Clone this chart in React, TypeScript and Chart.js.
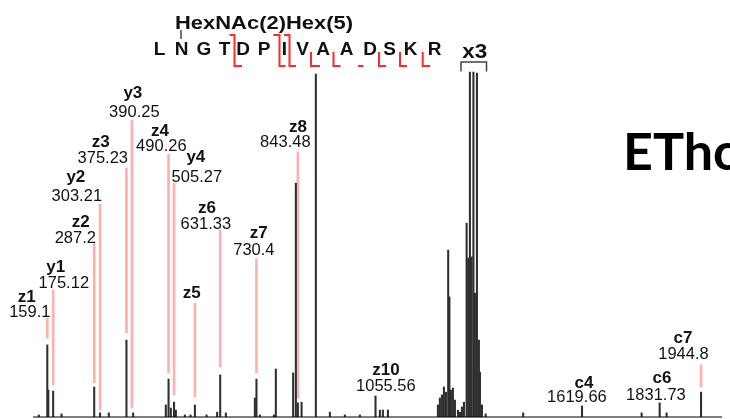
import React, { useEffect, useRef } from "react";
import { Chart, registerables } from "chart.js";

Chart.register(...registerables);

// ---------- axis ranges ----------
const MZ_MIN = 120;
const MZ_MAX = 2002;
const INT_MAX = 120.9;

// ---------- spectrum peaks (m/z, relative intensity) ----------
const PEAK_MZ = [
  135.9, 159.1, 161.8, 175.12, 197.9, 287.2, 303.21, 327.1, 375.23, 393.5,
  482.8, 490.26, 496.5, 505.27, 510.2, 534.8, 550.3, 562.2, 594.0, 623.0,
  631.33, 646.8, 726.0, 730.4, 739.7, 778.0, 783.3, 830.6, 838.0, 843.48,
  853.6, 892.6, 930.9, 971.9, 1012.9, 1055.56, 1067.5, 1075.7, 1089.4, 1226.0,
  1231.4, 1236.9, 1242.4, 1247.9, 1254.1, 1257.4, 1261.5, 1267.0, 1272.5, 1280.7,
  1286.2, 1291.6, 1297.1, 1304.4, 1308.8, 1313.4, 1318.1, 1323.0, 1327.1, 1332.6,
  1338.0, 1340.8, 1346.3, 1356.4, 1459.0, 1619.66, 1782.5, 1831.73, 1850.7, 1944.8,
];
const PEAK_INT = [
  0.6, 20.9, 7.8, 7.5, 0.9, 8.7, 1.2, 1.2, 22.3, 1.2,
  3.5, 11.0, 2.6, 4.3, 2.0, 0.6, 0.6, 3.5, 0.6, 1.4,
  12.2, 1.2, 5.5, 11.0, 0.6, 0.6, 13.9, 12.8, 67.8, 4.1,
  4.3, 99.4, 1.4, 0.6, 0.6, 6.1, 2.0, 2.0, 2.0, 3.5,
  5.5, 6.4, 8.7, 7.2, 48.4, 34.8, 7.8, 8.4, 4.9, 2.0,
  1.4, 2.9, 4.3, 56.2, 46.1, 100, 46.4, 100, 35.9, 99.7,
  22.3, 13.0, 3.5, 0.9, 1.2, 3.2, 1.2, 4.1, 1.2, 7.2,
];

// ---------- annotated fragment ions ----------
const ION_NAMES = ["z1", "y1", "z2", "y2", "z3", "y3", "z4", "y4", "z5", "z6", "z7", "z8", "z10", "c4", "c6", "c7"];
const ION_MZ_TEXT = ["159.1", "175.12", "287.2", "303.21", "375.23", "390.25", "490.26", "505.27", "", "631.33", "730.4", "843.48", "1055.56", "1619.66", "1831.73", "1944.8"];
// label anchors in data units: [name m/z, name intensity, value m/z, value intensity]
const LABEL_ANCHORS: number[][] = [
  [103.1, 33.3, 111.3, 29.0],
  [182.3, 42.0, 204.2, 37.4],
  [250.6, 55.1, 235.6, 50.4],
  [237.0, 68.1, 239.7, 62.6],
  [305.3, 78.3, 310.7, 73.6],
  [392.7, 92.5, 396.8, 87.0],
  [466.5, 81.5, 470.6, 77.1],
  [564.8, 73.9, 567.5, 68.1],
  [553.9, 34.5, 553.9, 34.5],
  [594.9, 59.1, 592.1, 54.5],
  [736.9, 51.9, 723.3, 47.0],
  [843.5, 82.6, 809.3, 78.4],
  [1083.9, 12.2, 1083.9, 7.5],
  [1624.8, 8.4, 1605.7, 4.3],
  [1837.9, 9.9, 1821.5, 4.9],
  [1895.3, 21.5, 1896.7, 16.8],
];

// pink leader lines (m/z, low, high)
const MARK_MZ = [159.1, 175.12, 287.2, 303.21, 375.23, 390.25, 490.26, 505.27, 562.2, 631.33, 730.4, 843.48, 1944.8];
const MARK_LOW = [22.9, 9.3, 9.9, 2.0, 24.4, 2.6, 12.8, 6.4, 5.8, 14.5, 12.8, 5.5, 8.7];
const MARK_HIGH = [28.7, 36.8, 50.7, 61.7, 72.2, 86.1, 76.2, 67.8, 33.0, 54.2, 45.8, 76.8, 15.1];

// ---------- peptide sequence header ----------
const SEQUENCE = ["L", "N", "G", "T", "D", "P", "I", "V", "A", "A", "D", "S", "K", "R"];
const GLYCAN = "HexNAc(2)Hex(5)";
const CHARGE_TEXT = "x3";
const METHOD_TEXT = "EThcD";

const SANS = '"Liberation Sans", Arial, sans-serif';

// header layout (pixels)
const SEQ_X = [159.5, 181.5, 204, 224.5, 243, 264, 284.5, 302.5, 323, 346.5, 370, 389.5, 410.5, 434.5];

function fitText(ctx: CanvasRenderingContext2D, text: string, cx: number, y: number, font: string, width: number) {
  ctx.save();
  ctx.font = font;
  const w = ctx.measureText(text).width;
  ctx.translate(cx, y);
  ctx.scale(width / w, 1);
  ctx.textAlign = "center";
  ctx.fillText(text, 0, 0);
  ctx.restore();
}

const annotPlugin = {
  id: "annot",
  afterDatasetsDraw(chart: any) {
    const ctx: CanvasRenderingContext2D = chart.ctx;
    const xs = chart.scales.x;
    const ys = chart.scales.y;
    ctx.save();
    ctx.textBaseline = "alphabetic";
    ctx.textAlign = "center";
    ctx.fillStyle = "#111";
    ION_NAMES.forEach((name, i) => {
      const a = LABEL_ANCHORS[i];
      ctx.font = `bold 17px ${SANS}`;
      ctx.fillText(name, xs.getPixelForValue(a[0]), ys.getPixelForValue(a[1]));
      if (ION_MZ_TEXT[i]) {
        ctx.font = `16.5px ${SANS}`;
        ctx.fillText(ION_MZ_TEXT[i], xs.getPixelForValue(a[2]), ys.getPixelForValue(a[3]));
      }
    });

    // glycan + sequence
    ctx.fillStyle = "#111";
    fitText(ctx, GLYCAN, 264, 29, `bold 19px ${SANS}`, 178);
    ctx.font = `bold 19px ${SANS}`;
    ctx.textAlign = "center";
    SEQUENCE.forEach((s, i) => ctx.fillText(s, SEQ_X[i], 55));

    // glycan attachment tick
    ctx.strokeStyle = "#444";
    ctx.lineWidth = 1.5;
    ctx.beginPath();
    ctx.moveTo(181, 30);
    ctx.lineTo(181, 39);
    ctx.stroke();

    // cleavage markers
    ctx.strokeStyle = "#ff2a2a";
    ctx.lineWidth = 2;
    ctx.lineCap = "butt";
    const both = (vx: number, l: number, r: number) => {
      ctx.beginPath();
      ctx.moveTo(vx - l, 35);
      ctx.lineTo(vx, 35);
      ctx.lineTo(vx, 66);
      ctx.lineTo(vx + r, 66);
      ctx.stroke();
    };
    const zOnly = (vx: number, r: number) => {
      ctx.beginPath();
      ctx.moveTo(vx, 52);
      ctx.lineTo(vx, 66);
      ctx.lineTo(vx + r, 66);
      ctx.stroke();
    };
    both(234.5, 5, 7.5);
    both(279.5, 6, 6);
    both(289.5, 5.5, 6.5);
    zOnly(311, 9);
    zOnly(333.5, 7);
    ctx.beginPath();
    ctx.moveTo(358, 66);
    ctx.lineTo(363.5, 66);
    ctx.stroke();
    zOnly(379, 7);
    zOnly(400, 7);
    zOnly(422.7, 7.5);

    // x3 bracket
    ctx.fillStyle = "#111";
    fitText(ctx, CHARGE_TEXT, 474.7, 58, `bold 20px ${SANS}`, 25);
    ctx.strokeStyle = "#444";
    ctx.lineWidth = 1.5;
    ctx.beginPath();
    ctx.moveTo(461, 71.5);
    ctx.lineTo(461, 62);
    ctx.lineTo(486.5, 62);
    ctx.lineTo(486.5, 71.5);
    ctx.stroke();

    // method label
    ctx.fillStyle = "#000";
    ctx.textAlign = "left";
    ctx.font = `bold 52px Lato, "Open Sans", sans-serif`;
    ctx.fillText(METHOD_TEXT, 623, 170);
    ctx.restore();
  },
};

export default function App() {
  const ref = useRef<HTMLCanvasElement>(null);
  useEffect(() => {
    const canvas = ref.current;
    if (!canvas) return;
    const peaks = PEAK_MZ.map((x, i) => ({ x, y: PEAK_INT[i] }));
    const marks = MARK_MZ.map((x, i) => ({ x, y: [MARK_LOW[i], MARK_HIGH[i]] }));
    const chart = new Chart(canvas, {
      type: "bar",
      data: {
        datasets: [
          {
            type: "bar",
            data: peaks as any,
            backgroundColor: "#2e2e2e",
            barThickness: 1.4,
            grouped: false,
            order: 1,
          } as any,
          {
            type: "bar",
            data: marks as any,
            backgroundColor: "#ffb0b0",
            barThickness: 2,
            grouped: false,
            order: 2,
          } as any,
          {
            type: "line",
            data: [
              { x: MZ_MIN, y: 0 },
              { x: MZ_MAX, y: 0 },
            ],
            borderColor: "#000",
            borderWidth: 1,
            pointRadius: 0,
            clip: false,
            order: 0,
          } as any,
        ],
      },
      options: {
        animation: false,
        responsive: false,
        layout: { padding: { left: 33, right: 8, top: 0, bottom: 2 } },
        plugins: { legend: { display: false }, tooltip: { enabled: false } },
        scales: {
          x: { type: "linear", min: MZ_MIN, max: MZ_MAX, display: false, offset: false },
          y: { type: "linear", min: 0, max: INT_MAX, display: false },
        },
      },
      plugins: [annotPlugin],
    });
    return () => chart.destroy();
  }, []);
  return (
    <div style={{ position: "absolute", left: 0, top: 0, width: 730, height: 419, background: "#fff" }}>
      <canvas ref={ref} width={730} height={419} style={{ display: "block" }} />
    </div>
  );
}
